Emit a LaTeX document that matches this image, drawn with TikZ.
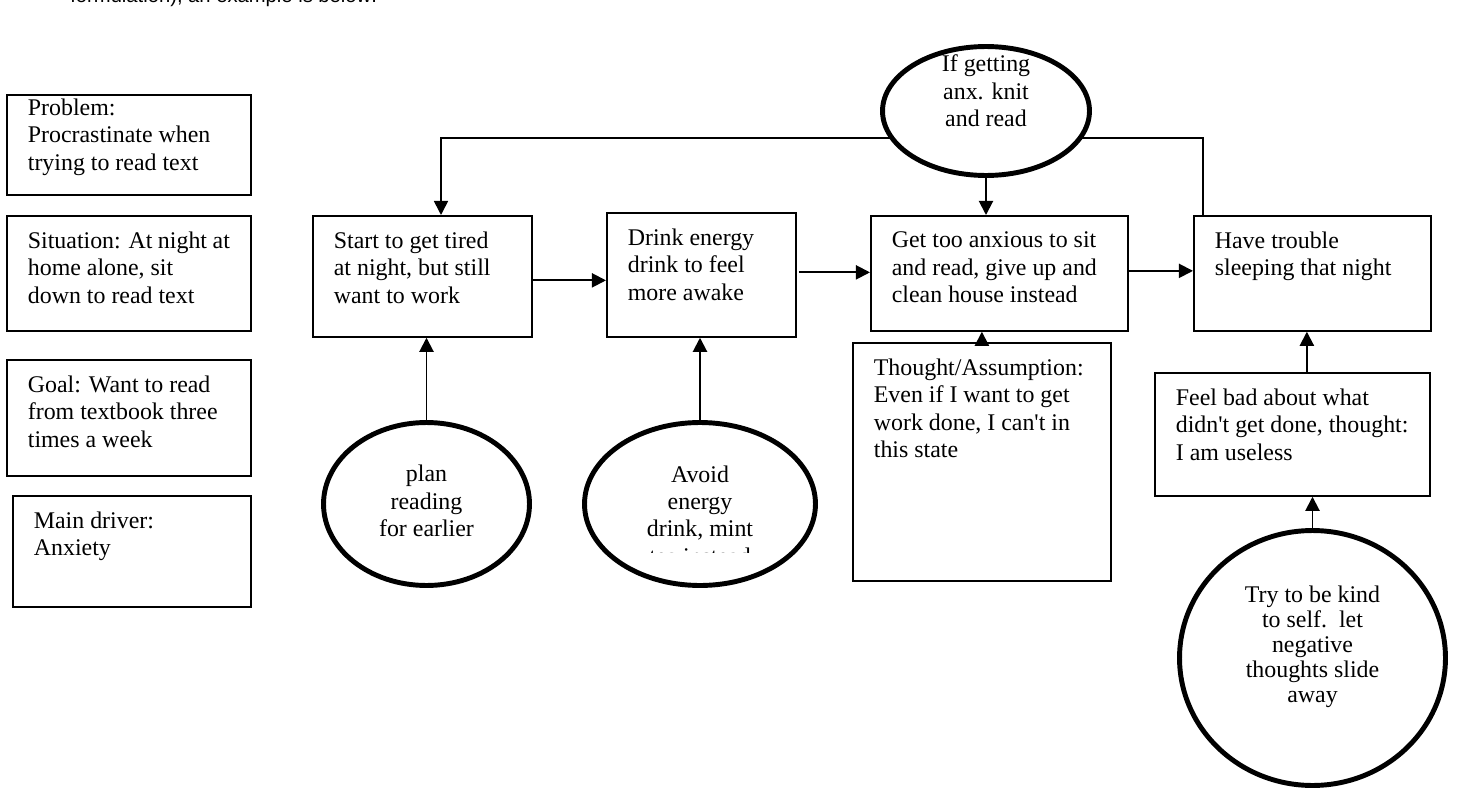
\documentclass[tikz,border=0pt]{standalone}
\usepackage{fontspec}
\setmainfont{Liberation Serif}
\newfontfamily\headfont{Liberation Sans}
\usetikzlibrary{shapes.geometric,arrows.meta,calc}

\newdimen\px \px=0.02cm
% text box at the top of a step box: #1 width, #2 height (in px)
\newcommand{\boxtext}[3]{\parbox[c][\dimexpr#2\px-32\px\relax][t]{\dimexpr#1\px-42\px\relax}{\raggedright #3}}

\tikzstyle{stepbox} = [draw, line width=1pt, fill=white, anchor=north west, inner xsep=11.95pt, inner ysep=9.1pt, font=\fontsize{13.6}{15.6}\selectfont]
\tikzstyle{oval} = [ellipse, draw, line width=2.8pt, fill=white, inner sep=0pt]
\tikzstyle{ovaltext} = [align=center, inner sep=0pt, font=\fontsize{13.6}{15.6}\selectfont]
\tikzstyle{connector} = [line width=1.1pt, -{Triangle[length=8pt,width=8pt]}]

\begin{document}
\begin{tikzpicture}[x=0.02cm, y=-0.02cm]
    \useasboundingbox (0,0) rectangle (1458,791);
    \node[anchor=base west, inner sep=0pt, font=\headfont\fontsize{11.5}{13}\selectfont] (intro) at (70,3) {formulation), an example is below:};

    % left column
    \node[stepbox] (prob) at (6,94) {\boxtext{244}{100}{\vspace*{-12\px}Problem:\\ Procrastinate when\\ trying to read text}};
    \node[stepbox] (sit) at (6,215) {\boxtext{244}{115}{Situation: At night at\\ home alone, sit\\ down to read text}};
    \node[stepbox] (goal) at (6,359) {\boxtext{244}{116}{Goal: Want to read\\ from textbook three\\ times a week}};
    \node[stepbox] (drv) at (12,495) {\boxtext{238}{111}{Main driver:\\ Anxiety}};

    % chain
    \node[stepbox] (tired) at (312,215) {\boxtext{219}{121}{Start to get tired\\ at night, but still\\ want to work}};
    \node[stepbox] (drink) at (606,212) {\boxtext{189}{124}{Drink energy\\ drink to feel\\ more awake}};
    \node[stepbox] (anx) at (870,215) {\boxtext{257}{115}{Get too anxious to sit\\ and read, give up and\\ clean house instead}};
    \node[stepbox] (sleep) at (1193,215) {\boxtext{237}{115}{Have trouble\\ sleeping that night}};

    \node[stepbox] (thought) at (852,342) {\boxtext{258}{238}{Thought/Assumption:\\ Even if I want to get\\ work done, I can\textquotesingle t in\\ this state}};
    \node[stepbox] (feel) at (1154,372) {\boxtext{275}{123}{Feel bad about what\\ didn\textquotesingle t get done, thought:\\ I am useless}};

    % loop back
    \coordinate (back) at (441,138);
    \draw[connector, line width=0.9pt] ($(sleep.north west)+(10,0)$) |- (back) -- (back |- tired.north);

    % ovals
    \node[oval, minimum width=4.14cm, minimum height=2.58cm] (knit) at (986,111) {};
    \node[ovaltext] (knit-t) at (986,91) {If getting\\ anx. knit\\ and read};
    \node[oval, minimum width=4.12cm, minimum height=3.26cm] (plan) at (426.5,504) {};
    \node[ovaltext] (plan-t) at (426.5,501) {plan\\ reading\\ for earlier};
    \node[oval, minimum width=4.62cm, minimum height=3.26cm] (avoid) at (700,504) {};
    \begin{scope}
        \clip (582,420) rectangle (818,552);
        \node[ovaltext] (avoid-t) at (700,515) {Avoid\\ energy\\ drink, mint\\ tea instead};
    \end{scope}
    \node[oval, minimum width=5.32cm, minimum height=5.1cm] (kind) at (1312.5,658) {};
    \node[ovaltext, font=\fontsize{13.6}{14.2}\selectfont] (kind-t) at (1312.5,646.5) {Try to be kind\\ to self.\ \ let\\ negative\\ thoughts slide\\ away};

    % arrows
    \draw[connector] ($(tired.east)+(0,4)$) -- ($(tired.east -| drink.west)+(0,4)$);
    \draw[connector] ($(drink.east)+(2,-2.5)$) -- ($(drink.east -| anx.west)+(0,-2.5)$);
    \draw[connector] ($(anx.east)+(0,-2.5)$) -- ($(anx.east -| sleep.west)+(0,-2.5)$);
    \draw[connector] (knit.south) -- (knit.south |- anx.north);
    \draw[connector] (plan.north) -- (plan.north |- tired.south);
    \draw[connector] (avoid.north) -- (avoid.north |- drink.south);
    \draw[connector] (thought.north) -- (thought.north |- anx.south);
    \coordinate (feeltop) at ($(feel.north)+(14.5,0)$);
    \draw[connector] (feeltop) -- (feeltop |- sleep.south);
    \draw[connector] (kind.north) -- (kind.north |- feel.south);
\end{tikzpicture}
\end{document}
